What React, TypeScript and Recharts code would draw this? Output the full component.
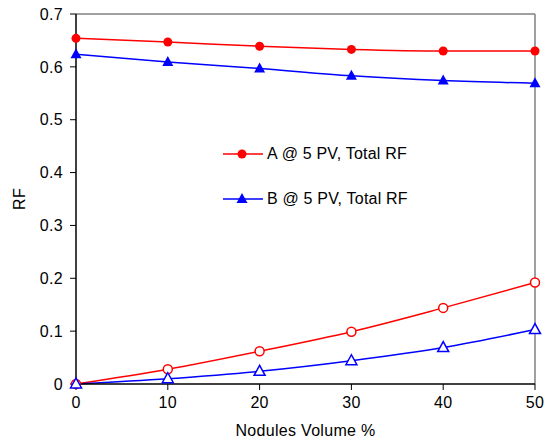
import React from "react";
import { LineChart, Line, XAxis, YAxis, ReferenceLine, Label } from "recharts";

const xValues = [0, 10, 20, 30, 40, 50];
const aTotal = [0.654, 0.647, 0.639, 0.633, 0.63, 0.63];
const bTotal = [0.624, 0.609, 0.597, 0.583, 0.574, 0.569];
const aOther = [0, 0.028, 0.062, 0.099, 0.144, 0.192];
const bOther = [0, 0.01, 0.024, 0.044, 0.069, 0.103];
const yTicks = [0, 0.1, 0.2, 0.3, 0.4, 0.5, 0.6, 0.7];
const seriesNames = ["A @ 5 PV, Total RF", "B @ 5 PV, Total RF"];

const data = xValues.map((x, i) => ({
  x,
  aTotal: aTotal[i],
  bTotal: bTotal[i],
  aOther: aOther[i],
  bOther: bOther[i],
}));

const FONT = "'Liberation Sans', Arial, sans-serif";
const RED = "#ff0000";
const BLUE = "#0000ff";
const textStyle = { fill: "#000", fontSize: 16, fontFamily: FONT, letterSpacing: 0.3 };

const Tri = (props: any) => {
  const { cx, cy, fill, stroke, sw } = props;
  if (cx == null || cy == null) return null;
  return (
    <path
      d={`M${cx},${cy - 6} L${cx - 5.5},${cy + 4} L${cx + 5.5},${cy + 4} Z`}
      fill={fill}
      stroke={stroke}
      strokeWidth={sw}
    />
  );
};

const LegendBox = () => (
  <div style={{ position: "absolute", left: 223, top: 144, fontFamily: FONT, fontSize: 16, letterSpacing: 0.2, color: "#000" }}>
    {[0, 1].map((i) => (
      <div key={i} style={{ display: "flex", alignItems: "center", height: 20, marginBottom: i === 0 ? 25 : 0 }}>
        <svg width={44} height={20} style={{ display: "block" }}>
          <line x1={0} y1={10} x2={40} y2={10} stroke={i === 0 ? RED : BLUE} strokeWidth={1.5} />
          {i === 0 ? (
            <circle cx={19} cy={10} r={4.5} fill={RED} />
          ) : (
            <path d="M19,4 L13.5,14 L24.5,14 Z" fill={BLUE} />
          )}
        </svg>
        <span>{seriesNames[i]}</span>
      </div>
    ))}
  </div>
);

export default function App() {
  return (
    <div style={{ position: "absolute", left: 0, top: 0, width: 547, height: 442, background: "#fff" }}>
      <LineChart width={547} height={442} data={data} margin={{ top: 14, right: 12, left: 0, bottom: 0 }}>
        <XAxis
          dataKey="x"
          type="number"
          domain={[0, 50]}
          ticks={xValues}
          axisLine={{ stroke: "#000", strokeWidth: 1.5 }}
          tickLine={{ stroke: "#000", strokeWidth: 1 }}
          tickSize={6}
          tickMargin={7}
          height={58}
          tick={textStyle}
        >
          <Label value="Nodules Volume %" position="insideBottom" offset={6} style={textStyle} />
        </XAxis>
        <YAxis
          type="number"
          domain={[0, 0.7]}
          ticks={yTicks}
          tickFormatter={(v: number) => (v === 0 ? "0" : v.toFixed(1))}
          axisLine={{ stroke: "#000", strokeWidth: 1.5 }}
          tickLine={{ stroke: "#000", strokeWidth: 1 }}
          tickSize={6}
          tickMargin={7}
          width={76}
          tick={textStyle}
        >
          <Label value="RF" angle={-90} position="insideLeft" offset={19} style={{ ...textStyle, textAnchor: "middle" }} />
        </YAxis>
        <ReferenceLine y={0.7} stroke="#808080" strokeWidth={1.5} />
        <ReferenceLine x={50} stroke="#808080" strokeWidth={1.5} />
        <Line
          type="monotone"
          dataKey="aTotal"
          name={seriesNames[0]}
          stroke={RED}
          strokeWidth={1.5}
          dot={{ r: 4.5, fill: RED, stroke: RED, strokeWidth: 0 }}
          isAnimationActive={false}
        />
        <Line
          type="monotone"
          dataKey="bTotal"
          name={seriesNames[1]}
          stroke={BLUE}
          strokeWidth={1.5}
          dot={(p: any) => <Tri key={`bt${p.index}`} cx={p.cx} cy={p.cy} fill={BLUE} stroke="none" sw={0} />}
          isAnimationActive={false}
        />
        <Line
          type="monotone"
          dataKey="aOther"
          stroke={RED}
          strokeWidth={1.5}
          dot={{ r: 4.5, fill: "#fff", stroke: RED, strokeWidth: 1.5 }}
          isAnimationActive={false}
        />
        <Line
          type="monotone"
          dataKey="bOther"
          stroke={BLUE}
          strokeWidth={1.5}
          dot={(p: any) => <Tri key={`bo${p.index}`} cx={p.cx} cy={p.cy} fill="#fff" stroke={BLUE} sw={1.5} />}
          isAnimationActive={false}
        />
      </LineChart>
      <LegendBox />
    </div>
  );
}
